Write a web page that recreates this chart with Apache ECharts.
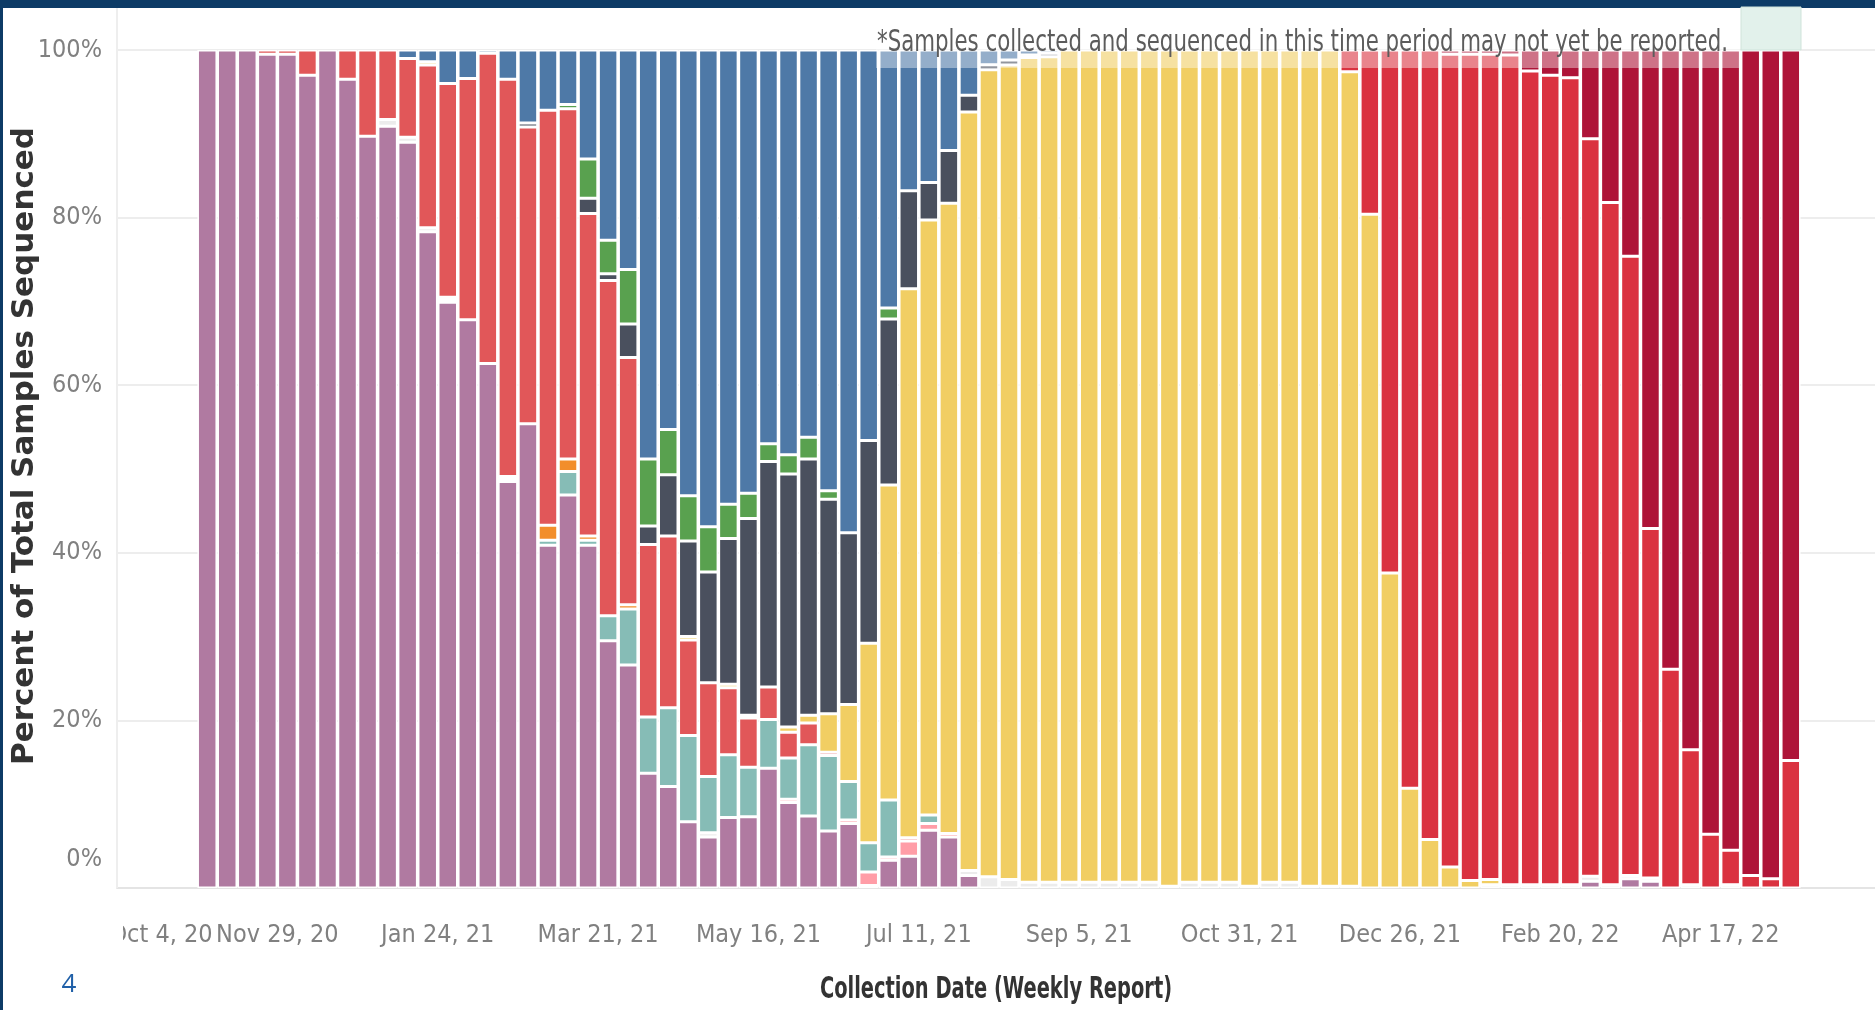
<!DOCTYPE html>
<html>
<head>
<meta charset="utf-8">
<title>Percent of Total Samples Sequenced</title>
<script src="https://cdn.jsdelivr.net/npm/echarts@6/dist/echarts.min.js"></script>
<style>
html, body { margin: 0; padding: 0; background: #fff; }
#chart { width: 1875px; height: 1010px; }
</style>
</head>
<body>
<div id="chart"></div>
<script>
// x axis tick labels, one every 8 weeks starting at the axis origin
const tickLabels = ['Oct 4, 20', 'Nov 29, 20', 'Jan 24, 21', 'Mar 21, 21', 'May 16, 21', 'Jul 11, 21',
    'Sep 5, 21', 'Oct 31, 21', 'Dec 26, 21', 'Feb 20, 22', 'Apr 17, 22'];
const axisStart = '2020-10-04';
const firstWeek = '2020-11-01';
const axisWeeks = 88;

// percent of sequenced samples per week (from firstWeek), bottom of the stack first
const other = [
    100, 100, 100, 99.5, 99.5, 97.0, 100, 96.5, 89.7, 90.9,
    89.0, 78.3, 69.9, 67.8, 62.6, 48.5, 55.4, 40.9, 46.9, 40.9,
    29.5, 26.6, 13.7, 12.1, 7.9, 6.1, 8.4, 8.5, 14.3, 10.2,
    8.6, 6.8, 7.7, 0.3, 3.3, 3.8, 6.9, 6.1, 1.5, 0,
    0, 0, 0, 0, 0, 0, 0, 0, 0, 0,
    0, 0, 0, 0, 0, 0, 0, 0, 0, 0,
    0, 0, 0, 0, 0, 0, 0, 0, 0, 0.8,
    0, 1.1, 0.8, 0, 0, 0, 0, 0, 0, 0
];
const unassigned = [
    0, 0, 0, 0, 0, 0, 0, 0, 0, 0.8,
    0.6, 0.5, 0, 0, 0, 0, 0, 0, 0, 0,
    0, 0, 0, 0, 0, 0.5, 0, 0, 0, 0,
    0, 0, 0, 0, 0, 0, 0, 0, 0.6, 1.35,
    1.0, 0.7, 0.7, 0.7, 0.7, 0.7, 0.7, 0.7, 0.2, 0.7,
    0.7, 0.7, 0.2, 0.7, 0.7, 0.2, 0.2, 0.2, 0, 0,
    0, 0, 0, 0, 0.4, 0.4, 0.4, 0.4, 0.4, 0.6,
    0.4, 0.4, 0.4, 0, 0.4, 0, 0.4, 0, 0, 0
];
const mu = [
    0, 0, 0, 0, 0, 0, 0, 0, 0, 0,
    0, 0, 0, 0, 0, 0, 0, 0, 0, 0,
    0, 0, 0, 0, 0, 0, 0, 0, 0, 0.4,
    0, 0, 0.4, 1.6, 0.4, 1.8, 0.8, 0.4, 0, 0,
    0, 0, 0, 0, 0, 0, 0, 0, 0, 0,
    0, 0, 0, 0, 0, 0, 0, 0, 0, 0,
    0, 0, 0, 0, 0, 0, 0, 0, 0, 0,
    0, 0, 0, 0, 0, 0, 0, 0, 0, 0
];
const iota = [
    0, 0, 0, 0, 0, 0, 0, 0, 0, 0,
    0, 0, 0.3, 0, 0, 0.3, 0, 0.6, 2.8, 0.6,
    3.0, 6.7, 6.7, 9.4, 10.3, 6.7, 7.5, 5.9, 5.8, 4.9,
    8.5, 9.0, 4.6, 3.5, 6.8, 0, 1.0, 0, 0, 0,
    0, 0, 0, 0, 0, 0, 0, 0, 0, 0,
    0, 0, 0, 0, 0, 0, 0, 0, 0, 0,
    0, 0, 0, 0, 0, 0, 0, 0, 0, 0,
    0, 0, 0, 0, 0, 0, 0, 0, 0, 0
];
const zeta = [
    0, 0, 0, 0, 0, 0, 0, 0, 0, 0,
    0, 0, 0.3, 0, 0, 0.3, 0, 1.8, 1.5, 0.5,
    0, 0.5, 0, 0, 0, 0, 0, 0, 0, 0,
    0, 0, 0, 0, 0, 0, 0, 0, 0, 0,
    0, 0, 0, 0, 0, 0, 0, 0, 0, 0,
    0, 0, 0, 0, 0, 0, 0, 0, 0, 0,
    0, 0, 0, 0, 0, 0, 0, 0, 0, 0,
    0, 0, 0, 0, 0, 0, 0, 0, 0, 0
];
const epsilon = [
    0, 0, 0, 0.5, 0.5, 3.0, 0, 3.5, 10.3, 8.3,
    9.4, 19.4, 25.5, 28.8, 37.0, 47.4, 35.4, 49.5, 41.8, 38.5,
    40.0, 29.5, 20.6, 20.5, 11.4, 11.2, 8.0, 5.9, 3.9, 3.1,
    2.6, 0.4, 0, 0, 0, 0.4, 0, 0, 0, 0,
    0, 0, 0, 0, 0, 0, 0, 0, 0, 0,
    0, 0, 0, 0, 0, 0, 0, 0, 0, 0,
    0, 0, 0, 0, 0, 0, 0, 0, 0, 0,
    0, 0, 0, 0, 0, 0, 0, 0, 0, 0
];
const delta = [
    0, 0, 0, 0, 0, 0, 0, 0, 0, 0,
    0, 0.4, 0, 0, 0, 0, 0, 0, 0, 0,
    0, 0, 0, 0, 0.4, 0, 0.4, 0.3, 0, 0.6,
    0.9, 4.6, 9.2, 23.8, 37.6, 65.5, 71.0, 75.2, 90.5, 96.3,
    97.2, 98.4, 98.5, 99.3, 99.3, 99.3, 99.3, 99.3, 99.8, 99.3,
    99.3, 99.3, 99.8, 99.3, 99.3, 99.8, 99.8, 97.2, 80.4, 37.6,
    11.9, 5.8, 2.5, 0.9, 0.6, 0, 0, 0, 0, 0,
    0, 0, 0, 0, 0, 0, 0, 0, 0, 0
];
const gamma = [
    0, 0, 0, 0, 0, 0, 0, 0, 0, 0,
    0, 0, 0, 0, 0, 0, 0.5, 0, 0, 1.8,
    0.8, 4.0, 2.2, 7.3, 11.4, 13.2, 17.4, 23.5, 26.9, 30.2,
    30.6, 25.6, 20.5, 24.2, 19.8, 11.7, 4.5, 6.3, 2.0, 0.6,
    0.6, 0.3, 0.4, 0, 0, 0, 0, 0, 0, 0,
    0, 0, 0, 0, 0, 0, 0, 0, 0, 0,
    0, 0, 0, 0, 0, 0, 0, 0, 0, 0,
    0, 0, 0, 0, 0, 0, 0, 0, 0, 0
];
const beta = [
    0, 0, 0, 0, 0, 0, 0, 0, 0, 0,
    0, 0, 0, 0, 0, 0, 0, 0, 0.5, 4.7,
    4.0, 6.5, 8.0, 5.4, 5.4, 5.4, 4.1, 3.0, 2.1, 2.3,
    2.6, 1.0, 0, 0, 1.3, 0, 0, 0, 0, 0,
    0, 0, 0, 0, 0, 0, 0, 0, 0, 0,
    0, 0, 0, 0, 0, 0, 0, 0, 0, 0,
    0, 0, 0, 0, 0, 0, 0, 0, 0, 0,
    0, 0, 0, 0, 0, 0, 0, 0, 0, 0
];
const alpha = [
    0, 0, 0, 0, 0, 0, 0, 0, 0, 0,
    1.0, 1.4, 4.0, 3.4, 0.4, 3.5, 8.7, 7.2, 6.5, 13.0,
    22.7, 26.2, 48.8, 45.3, 53.2, 56.9, 54.2, 52.9, 47.0, 48.3,
    46.2, 52.6, 57.6, 46.6, 30.8, 16.8, 15.8, 12.0, 5.4, 1.75,
    1.2, 0.6, 0.4, 0, 0, 0, 0, 0, 0, 0,
    0, 0, 0, 0, 0, 0, 0, 0, 0, 0,
    0, 0, 0, 0, 0, 0, 0, 0, 0, 0,
    0, 0, 0, 0, 0, 0, 0, 0, 0, 0
];
const omicronBA1 = [
    0, 0, 0, 0, 0, 0, 0, 0, 0, 0,
    0, 0, 0, 0, 0, 0, 0, 0, 0, 0,
    0, 0, 0, 0, 0, 0, 0, 0, 0, 0,
    0, 0, 0, 0, 0, 0, 0, 0, 0, 0,
    0, 0, 0, 0, 0, 0, 0, 0, 0, 0,
    0, 0, 0, 0, 0, 0, 0, 2.6, 19.6, 62.4,
    88.1, 94.2, 97.0, 98.6, 98.5, 99.0, 97.1, 96.6, 96.3, 88.0,
    81.4, 73.9, 41.7, 26.1, 16.1, 6.4, 4.1, 1.5, 1.1, 15.2
];
const omicronBA2 = [
    0, 0, 0, 0, 0, 0, 0, 0, 0, 0,
    0, 0, 0, 0, 0, 0, 0, 0, 0, 0,
    0, 0, 0, 0, 0, 0, 0, 0, 0, 0,
    0, 0, 0, 0, 0, 0, 0, 0, 0, 0,
    0, 0, 0, 0, 0, 0, 0, 0, 0, 0,
    0, 0, 0, 0, 0, 0, 0, 0, 0, 0,
    0, 0, 0.5, 0.5, 0.5, 0.6, 2.5, 3.0, 3.3, 10.6,
    18.2, 24.6, 57.1, 73.9, 83.5, 93.6, 95.5, 98.5, 98.9, 84.8
];

let variants = [
    { name: 'Other', color: '#B07AA1', data: other },
    { name: 'Unassigned', color: '#ECECEC', data: unassigned },
    { name: 'Mu', color: '#FF9DA7', data: mu },
    { name: 'Iota', color: '#86BCB6', data: iota },
    { name: 'Zeta', color: '#F28E2B', data: zeta },
    { name: 'Epsilon', color: '#E15759', data: epsilon },
    { name: 'Delta', color: '#F1CE63', data: delta },
    { name: 'Gamma', color: '#4A505E', data: gamma },
    { name: 'Beta', color: '#59A14F', data: beta },
    { name: 'Alpha', color: '#4E79A7', data: alpha },
    { name: 'Omicron BA.1', color: '#DA3240', data: omicronBA1 },
    { name: 'Omicron BA.2', color: '#AE1438', data: omicronBA2 }
];

let condFont = '"DejaVu Sans Condensed", "DejaVu Sans", sans-serif';
let labelColor = '#808080';
let lineColor = '#E4E4E4';

// week categories along the axis
let weekMs = 7 * 24 * 3600 * 1000;
let originMs = Date.parse(axisStart);
let weeks = [];
for (let i = 0; i < axisWeeks; i++) {
    weeks.push(new Date(originMs + i * weekMs).toISOString().slice(0, 10));
}
let lead = weeks.indexOf(firstWeek); // empty weeks before the first bar

let series = variants.map(item => {
    let values = [];
    weeks.forEach((w, i) => {
        let v = item.data[i - lead];
        values.push(v > 0 ? v : '-');
    });
    return {
        type: 'bar',
        name: item.name,
        stack: 'total',
        xAxisIndex: 0,
        barWidth: 19.5,
        itemStyle: {
            color: item.color,
            borderColor: '#fff',
            borderWidth: 1.5
        },
        data: values
    };
});

let myChart = echarts.init(document.getElementById('chart'));

myChart.setOption({
    animation: false,
    backgroundColor: '#fff',
    grid: {
        left: 117,
        right: -6,
        top: 50,
        bottom: 122,
        containLabel: false,
        outerBoundsMode: 'none'
    },
    xAxis: [
        {
            type: 'category',
            data: weeks,
            position: 'bottom',
            boundaryGap: true,
            axisLine: { lineStyle: { color: lineColor, width: 2 } },
            axisTick: { interval: 7, length: 12, lineStyle: { color: lineColor, width: 2 } },
            splitLine: { show: false },
            axisLabel: {
                interval: 7,
                hideOverlap: false,
                // shift the label from the band centre to the week boundary
                padding: [0, 20, 0, 0],
                margin: 35,
                color: labelColor,
                fontFamily: condFont,
                fontSize: 25,
                formatter: (value, index) => {
                    let text = tickLabels[index / 8] || '';
                    return index === 0 ? '{first|' + text + '}' : text;
                },
                rich: {
                    first: { padding: [0, 0, 0, 88], color: labelColor, fontFamily: condFont, fontSize: 25 }
                }
            }
        },
        {
            // weekly minor ticks
            type: 'category',
            data: weeks,
            position: 'bottom',
            offset: 0,
            boundaryGap: true,
            axisLine: { show: false },
            axisTick: { interval: 0, length: 6, lineStyle: { color: '#EEEEEE', width: 1 } },
            axisLabel: { show: false },
            splitLine: { show: false }
        }
    ],
    yAxis: {
        type: 'value',
        min: 0,
        max: 100,
        interval: 20,
        axisLine: { show: false },
        axisTick: { show: false },
        splitLine: { lineStyle: { color: '#EDEDED', width: 2 } },
        axisLabel: {
            formatter: v => (v === 0 ? '{z|0%}' : v + '%'),
            verticalAlignMinLabel: 'bottom',
            margin: 15,
            color: labelColor,
            fontFamily: condFont,
            fontSize: 25,
            rich: {
                z: { padding: [0, 0, 16, 0], color: labelColor, fontFamily: condFont, fontSize: 25 }
            }
        }
    },
    graphic: [
        // page frame
        { type: 'rect', z: 100, shape: { x: 0, y: 0, width: 1875, height: 8 }, style: { fill: '#0D3B66' } },
        { type: 'rect', z: 100, shape: { x: 0, y: 0, width: 3, height: 1010 }, style: { fill: '#0D3B66' } },
        // pane edge, and the clipped start of the first date label
        { type: 'line', z: 1, shape: { x1: 117, y1: 8, x2: 117, y2: 888 }, style: { stroke: '#EEEEEE', lineWidth: 2 } },
        { type: 'rect', z: 100, shape: { x: 100, y: 912, width: 23, height: 48 }, style: { fill: '#fff' } },
        // "not yet reported" band
        { type: 'rect', z: 100, shape: { x: 876, y: 47, width: 864, height: 21 }, style: { fill: 'rgba(255,255,255,0.4)' } },
        { type: 'rect', z: 100, shape: { x: 1741, y: 7, width: 60, height: 43 }, style: { fill: '#E2F1EB', stroke: '#CFE3DA', lineWidth: 1 } },
        {
            type: 'text', z: 101, x: 877, y: 43, scaleX: 0.79,
            style: {
                text: '*Samples collected and sequenced in this time period may not yet be reported.',
                font: '30px ' + condFont,
                fill: '#5C5C5C',
                verticalAlign: 'middle'
            }
        },
        {
            type: 'text', z: 101, x: 25, y: 446, rotation: Math.PI / 2,
            style: {
                text: 'Percent of Total Samples Sequenced',
                font: 'bold 31px "DejaVu Sans", sans-serif',
                fill: '#333',
                align: 'center',
                verticalAlign: 'middle'
            }
        },
        {
            type: 'text', z: 101, x: 996, y: 990, scaleX: 0.72,
            style: {
                text: 'Collection Date (Weekly Report)',
                font: 'bold 30px ' + condFont,
                fill: '#333',
                align: 'center',
                verticalAlign: 'middle'
            }
        },
        {
            type: 'text', z: 101, x: 69, y: 985,
            style: {
                text: '4',
                font: '26px "Open Sans", sans-serif',
                fill: '#2060A8',
                align: 'center',
                verticalAlign: 'middle'
            }
        }
    ],
    series: series
});
</script>
</body>
</html>
